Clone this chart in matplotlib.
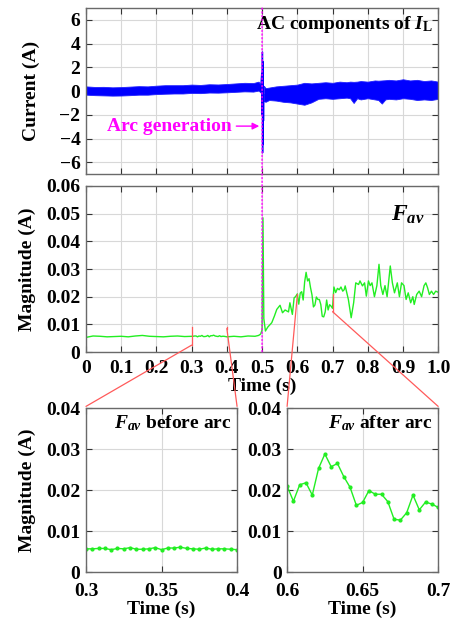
import numpy as np
import matplotlib
matplotlib.use("Agg")
import matplotlib.pyplot as plt
from matplotlib.patches import ConnectionPatch

# ---- data ----
# AC components of I_L : band envelope before / after the arc, and the arc spike
t_ac_pre = [0, 0.025, 0.05, 0.075, 0.1, 0.125, 0.15, 0.175, 0.2, 0.225, 0.25, 0.275,
            0.3, 0.325, 0.35, 0.375, 0.4, 0.425, 0.45, 0.475, 0.49, 0.497]
ac_pre_hi = [0.4, 0.35, 0.36, 0.32, 0.34, 0.38, 0.42, 0.4, 0.46, 0.5, 0.5, 0.5,
             0.55, 0.52, 0.58, 0.56, 0.6, 0.65, 0.7, 0.68, 0.8, 0.5]
ac_pre_lo = [-0.3, -0.34, -0.36, -0.38, -0.37, -0.34, -0.3, -0.3, -0.25, -0.22, -0.2, -0.2,
             -0.15, -0.17, -0.12, -0.13, -0.1, -0.06, -0.02, -0.04, 0.05, -0.15]
t_ac_post = [0.505, 0.51, 0.52, 0.54, 0.56, 0.58, 0.6, 0.62, 0.64, 0.66, 0.68, 0.7,
             0.72, 0.74, 0.75, 0.76, 0.77, 0.78, 0.8, 0.82, 0.83, 0.84, 0.85, 0.86,
             0.88, 0.9, 0.92, 0.94, 0.96, 0.98, 1.0]
ac_post_hi = [0.45, 0.25, 0.3, 0.4, 0.45, 0.5, 0.55, 0.7, 0.65, 0.7, 0.75, 0.7,
              0.8, 0.75, 0.8, 0.78, 0.8, 0.85, 0.8, 0.9, 0.88, 0.9, 0.92, 0.95,
              0.9, 1.0, 0.9, 0.95, 0.85, 0.9, 0.8]
ac_post_lo = [-0.85, -0.9, -0.75, -0.8, -0.9, -0.95, -1.05, -1.15, -0.95, -0.65, -0.6, -0.65,
              -0.6, -0.55, -0.6, -1.0, -0.6, -0.7, -0.6, -0.7, -0.75, -1.05, -0.7, -0.65,
              -0.7, -0.6, -0.65, -0.75, -0.7, -0.75, -0.65]
t_spike = [0.497, 0.499, 0.5005, 0.501, 0.5015, 0.502, 0.5025, 0.503, 0.504, 0.505]
i_spike = [0.6, 1.5, -2.0, 3.3, -5.2, 2.5, -4.5, 1.0, -2.5, -0.3]

# F_av before arc (0.3 .. 0.4, one point every 1/240 s)
t_before = [0.3 + k / 240 for k in range(25)]
f_before = [0.0057, 0.0057, 0.0058, 0.0058, 0.0055, 0.0058, 0.0057, 0.0060, 0.0056,
            0.0056, 0.0057, 0.0060, 0.0055, 0.0059, 0.0059, 0.0061, 0.0058, 0.0057,
            0.0056, 0.0059, 0.0056, 0.0057, 0.0057, 0.0056, 0.0055]
# F_av after arc (0.6 .. 0.7)
t_after = [0.6 + k / 240 for k in range(25)]
f_after = [0.0210, 0.0173, 0.0213, 0.0218, 0.0188, 0.0253, 0.0288, 0.0257, 0.0265,
           0.0233, 0.0207, 0.0163, 0.0170, 0.0199, 0.0190, 0.0190, 0.0172, 0.0129,
           0.0127, 0.0145, 0.0188, 0.0152, 0.0171, 0.0166, 0.0158]

t_f1 = [0, 0.02, 0.04, 0.06, 0.08, 0.1, 0.12, 0.14, 0.16, 0.18, 0.2, 0.22, 0.24, 0.26, 0.28]
f_1 = [0.0053, 0.0058, 0.0057, 0.0055, 0.0056, 0.0057, 0.0055, 0.0058, 0.0060, 0.0057,
       0.0056, 0.0055, 0.0057, 0.0058, 0.0056]
t_f2 = [0.42, 0.44, 0.46, 0.48, 0.49, 0.496, 0.5, 0.5025, 0.505, 0.5095, 0.516, 0.5275,
        0.535, 0.5417, 0.551, 0.558, 0.5653, 0.575, 0.579, 0.586, 0.591, 0.595]
f_2 = [0.0057, 0.0055, 0.0058, 0.0057, 0.0060, 0.0065, 0.0080, 0.0485, 0.0120, 0.0076,
       0.0090, 0.0106, 0.0130, 0.0154, 0.0169, 0.0142, 0.0152, 0.0145, 0.0178, 0.0136,
       0.0196, 0.0200]
t_f3 = [0.704, 0.709, 0.714, 0.719, 0.724, 0.729, 0.733, 0.736, 0.745, 0.753, 0.760,
        0.766, 0.774, 0.778, 0.785, 0.791, 0.796, 0.802, 0.807, 0.812, 0.819, 0.826,
        0.832, 0.837, 0.843, 0.849, 0.855, 0.864, 0.870, 0.876, 0.880, 0.884, 0.890,
        0.896, 0.903, 0.909, 0.915, 0.922, 0.928, 0.932, 0.939, 0.946, 0.953, 0.960,
        0.965, 0.970, 0.975, 0.981, 0.987, 0.993, 1.0]
f_3 = [0.0235, 0.0215, 0.0230, 0.0225, 0.0235, 0.0220, 0.0225, 0.0239, 0.0190, 0.0124,
       0.0178, 0.0250, 0.0244, 0.0257, 0.0239, 0.0250, 0.0202, 0.0257, 0.0240, 0.0250,
       0.0200, 0.0240, 0.0317, 0.0240, 0.0208, 0.0240, 0.0200, 0.0311, 0.0250, 0.0214,
       0.0232, 0.0250, 0.0200, 0.0250, 0.0240, 0.0190, 0.0214, 0.0178, 0.0200, 0.0172,
       0.0208, 0.0220, 0.0200, 0.0240, 0.0250, 0.0232, 0.0208, 0.0220, 0.0208, 0.0220,
       0.0216]

t_fav = t_f1 + t_before + t_f2 + t_after + t_f3
f_av = f_1 + f_before + f_2 + f_after + f_3

# ---- style ----
plt.rcParams["font.family"] = ["Liberation Serif", "DejaVu Serif"]
plt.rcParams["font.weight"] = "bold"
plt.rcParams["font.size"] = 14
plt.rcParams["axes.labelweight"] = "bold"
plt.rcParams["mathtext.fontset"] = "custom"
plt.rcParams["mathtext.rm"] = "Liberation Serif:bold"
plt.rcParams["mathtext.it"] = "Liberation Serif:italic:bold"
plt.rcParams["mathtext.bf"] = "Liberation Serif:bold"

GREEN = "#22ee22"
RED = "#ff5a5a"
MAG = "#ff00ff"
GRID = "#d8d8d8"
FRAME = "#6a6a6a"


def style(ax, xpad=6):
    ax.grid(True, color=GRID, linewidth=0.8)
    ax.set_axisbelow(True)
    ax.tick_params(direction="in", length=4, width=0.8, top=True, right=True,
                   color="#333333")
    ax.tick_params(axis="x", pad=xpad)
    ax.tick_params(axis="y", pad=4)
    for s in ax.spines.values():
        s.set_color(FRAME)
        s.set_linewidth(1.0)


fig = plt.figure(figsize=(4.55, 6.22), dpi=100)
ax1 = fig.add_axes([0.189, 0.720, 0.774, 0.267])
ax2 = fig.add_axes([0.189, 0.434, 0.774, 0.267])
ax3 = fig.add_axes([0.189, 0.080, 0.332, 0.264])
ax4 = fig.add_axes([0.631, 0.080, 0.332, 0.264])

# top: AC components
ax1.fill_between(t_ac_pre, ac_pre_lo, ac_pre_hi, color="#0000ff", linewidth=0.6,
                 edgecolor="#2020ff")
ax1.fill_between(t_ac_post, ac_post_lo, ac_post_hi, color="#0000ff", linewidth=0.6,
                 edgecolor="#2020ff")
ax1.plot(t_spike, i_spike, color="#0000ff", linewidth=1.0)
ax1.set_xlim(0, 1)
ax1.set_ylim(-7, 7)
ax1.set_xticks(np.arange(0, 1.01, 0.1))
ax1.set_xticklabels([])
ax1.set_yticks([-6, -4, -2, 0, 2, 4, 6])
ax1.set_ylabel("Current (A)", labelpad=14)
style(ax1)
ax1.text(0.985, 5.6, r"AC components of $I_{\rm L}$", ha="right", va="center")
ax1.annotate("Arc generation", xy=(0.492, -2.95), xytext=(0.415, -2.95),
             ha="right", va="center", color=MAG,
             arrowprops=dict(arrowstyle="-|>", color=MAG, lw=1.0, mutation_scale=10,
                             shrinkA=1, shrinkB=0))

# middle: F_av
ax2.plot(t_fav, f_av, color=GREEN, linewidth=1.0)
ax2.set_xlim(0, 1)
ax2.set_ylim(0, 0.06)
ax2.set_xticks(np.arange(0, 1.01, 0.1))
ax2.set_xticklabels(["0", "0.1", "0.2", "0.3", "0.4", "0.5", "0.6", "0.7", "0.8", "0.9", "1.0"])
ax2.set_yticks([0, 0.01, 0.02, 0.03, 0.04, 0.05, 0.06])
ax2.set_yticklabels(["0", "0.01", "0.02", "0.03", "0.04", "0.05", "0.06"])
ax2.set_ylabel("Magnitude (A)", labelpad=7)
ax2.set_xlabel("Time (s)", labelpad=0.5)
style(ax2)
ax2.text(0.867, 0.0495, r"$F_{av}$", ha="left", va="center", fontsize=17)

# arc marker through both upper panels
arc_line = ConnectionPatch(xyA=(0.5, 7), coordsA=ax1.transData,
                           xyB=(0.5, 0), coordsB=ax2.transData,
                           color=MAG, linestyle=":", linewidth=1.0)
fig.add_artist(arc_line)

# bottom: zoomed views
ax3.plot(t_before, f_before, color=GREEN, linewidth=1.0, marker="o", markersize=2)
ax3.set_xlim(0.3, 0.4)
ax3.set_ylim(0, 0.04)
ax3.set_xticks([0.3, 0.35, 0.4])
ax3.set_xticklabels(["0.3", "0.35", "0.4"])
ax3.set_yticks([0, 0.01, 0.02, 0.03, 0.04])
ax3.set_yticklabels(["0", "0.01", "0.02", "0.03", "0.04"])
ax3.set_ylabel("Magnitude (A)", labelpad=7)
ax3.set_xlabel("Time (s)", labelpad=0)
style(ax3, xpad=8)
ax3.text(0.967, 0.91, r"$F_{av}$ before arc", transform=ax3.transAxes,
         ha="right", va="center")

ax4.plot(t_after, f_after, color=GREEN, linewidth=1.0, marker="o", markersize=2)
ax4.set_xlim(0.6, 0.7)
ax4.set_ylim(0, 0.04)
ax4.set_xticks([0.6, 0.65, 0.7])
ax4.set_xticklabels(["0.6", "0.65", "0.7"])
ax4.set_yticks([0, 0.01, 0.02, 0.03, 0.04])
ax4.set_yticklabels(["0", "0.01", "0.02", "0.03", "0.04"])
ax4.set_xlabel("Time (s)", labelpad=0)
style(ax4, xpad=8)
ax4.text(0.967, 0.91, r"$F_{av}$ after arc", transform=ax4.transAxes,
         ha="right", va="center")

# red zoom connectors
zoom_marks = [(0.3, 0.009, 0.0025, ax3, (0, 1.01)),
              (0.4, 0.009, 0.0085, ax3, (1, 1.01)),
              (0.6, 0.021, 0.0205, ax4, (0, 1.01)),
              (0.7, 0.021, 0.0146, ax4, (1, 1.01))]
for x, ytop, ybot, target, corner in zoom_marks:
    ax2.plot([x, x], [ytop, ybot], color=RED, linewidth=0.9)
    con = ConnectionPatch(xyA=(x, ybot), coordsA=ax2.transData,
                          xyB=corner, coordsB=target.transAxes,
                          color=RED, linewidth=0.9)
    fig.add_artist(con)

fig.savefig("out.png", dpi=100)
